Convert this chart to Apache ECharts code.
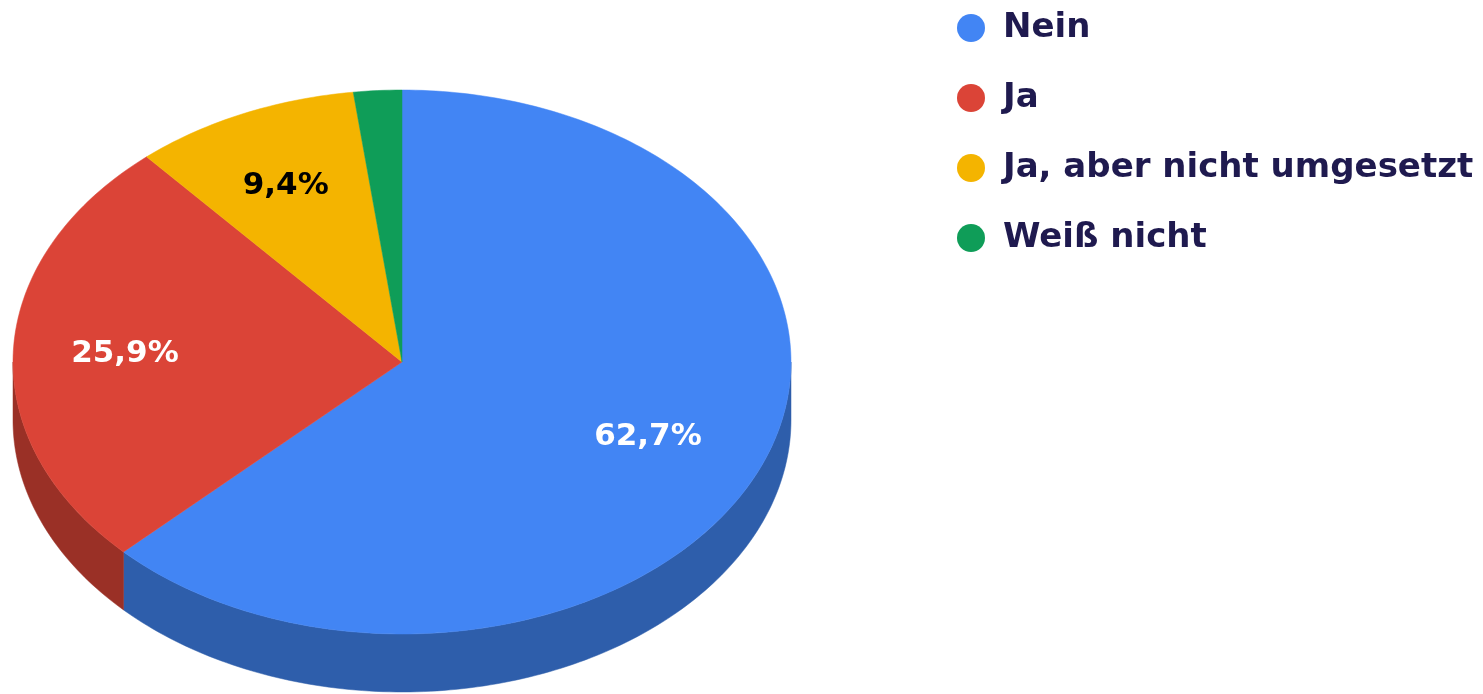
<!DOCTYPE html>
<html>
<head>
<meta charset="utf-8">
<script src="https://cdn.jsdelivr.net/npm/echarts@6/dist/echarts.min.js"></script>
<style>
html,body{margin:0;padding:0;background:#fff;}
#chart{width:1483px;height:694px;}
</style>
</head>
<body>
<div id="chart"></div>
<script>
// ---- data ----
var categories = ['Nein', 'Ja', 'Ja, aber nicht umgesetzt', 'Weiß nicht'];
var values = [62.7, 25.9, 9.4, 2.0];
var topColors = ['#4285f4', '#db4437', '#f4b400', '#0f9d58'];
var sideColors = ['#2e5eab', '#9a3026', '#ab7e00', '#0a6e3e'];
var labelColors = ['#ffffff', '#ffffff', '#000000', '#ffffff'];

// ---- layout ----
var CX = 402, CY = 362, RX = 389, RY = 272, DEPTH = 58;
var LABEL_RX = 0.70, LABEL_RY = 0.71, LABEL_DX = -5;
var total = values.reduce(function (a, b) { return a + b; }, 0);
var starts = [], ends = [];
(function () {
  var acc = 0;
  for (var i = 0; i < values.length; i++) {
    starts.push(acc / total * 360);
    acc += values[i];
    ends.push(acc / total * 360);
  }
})();

function pt(deg, dy) {
  var r = deg * Math.PI / 180;
  return [CX + RX * Math.sin(r), CY - RY * Math.cos(r) + (dy || 0)];
}
function arc(a1, a2, dy) {
  var pts = [];
  var n = Math.max(2, Math.ceil((a2 - a1) / 1));
  for (var k = 0; k <= n; k++) pts.push(pt(a1 + (a2 - a1) * k / n, dy));
  return pts;
}

function makeRender(i) {
  return function (params, api) {
    var children = [];
    var a1 = starts[i], a2 = ends[i];
    // side (front half: 90..270 degrees)
    var s = Math.max(a1, 90), e = Math.min(a2, 270);
    if (e > s) {
      var upper = arc(s, e, 0);
      var lower = arc(s, e, DEPTH).reverse();
      children.push({
        type: 'polygon',
        shape: { points: upper.concat(lower) },
        style: { fill: sideColors[i], stroke: sideColors[i], lineWidth: 0.5 }
      });
    }
    // top face
    var top = [[CX, CY]].concat(arc(a1, a2, 0));
    children.push({
      type: 'polygon',
      shape: { points: top },
      style: { fill: topColors[i], stroke: topColors[i], lineWidth: 0.5 },
      z2: 5
    });
    // label
    var pct = values[i] / total * 100;
    if (pct >= 5) {
      var mid = (a1 + a2) / 2 * Math.PI / 180;
      children.push({
        type: 'text',
        z2: 10,
        style: {
          text: pct.toFixed(1).replace('.', ',') + '%',
          x: CX + LABEL_DX + RX * LABEL_RX * Math.sin(mid),
          y: CY - RY * LABEL_RY * Math.cos(mid),
          fill: labelColors[i],
          fontSize: 31,
          fontWeight: 'bold',
          fontFamily: 'DejaVu Sans',
          align: 'center',
          verticalAlign: 'middle'
        }
      });
    }
    return { type: 'group', children: children };
  };
}

var series = categories.map(function (name, i) {
  return {
    type: 'custom',
    name: name,
    coordinateSystem: 'none',
    silent: true,
    animation: false,
    itemStyle: { color: topColors[i] },
    data: [values[i]],
    renderItem: makeRender(i)
  };
});

var chart = echarts.init(document.getElementById('chart'));
chart.setOption({
  backgroundColor: '#ffffff',
  animation: false,
  legend: {
    orient: 'vertical',
    left: 952,
    top: 3,
    icon: 'circle',
    itemWidth: 28,
    itemHeight: 28,
    itemGap: 30,
    data: categories,
    textStyle: {
      color: '#1f1a4f',
      fontSize: 34,
      fontWeight: 'bold',
      fontFamily: 'DejaVu Sans',
      lineHeight: 40,
      padding: [0, 0, 0, 13]
    }
  },
  series: series
});
</script>
</body>
</html>
